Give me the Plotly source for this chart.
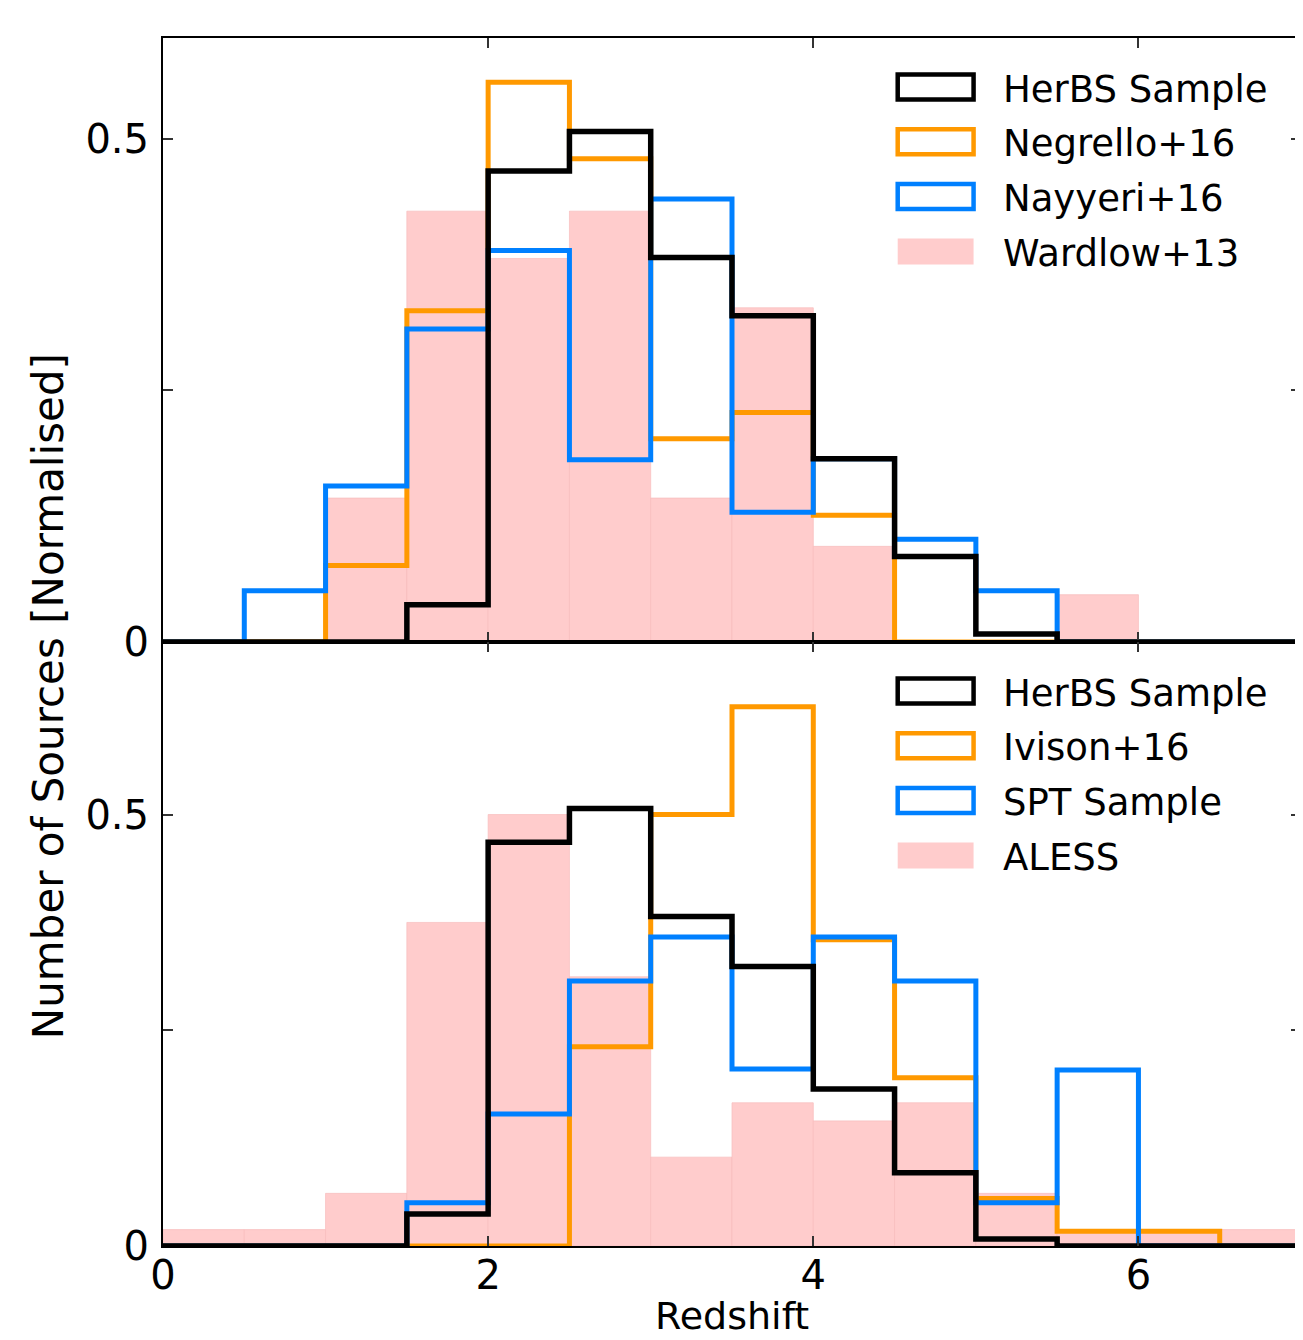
import numpy as np
import plotly.graph_objects as go
from plotly.subplots import make_subplots

# ---------------- data ----------------
bin_edges = [0.0, 0.5, 1.0, 1.5, 2.0, 2.5, 3.0, 3.5, 4.0, 4.5, 5.0, 5.5, 6.0, 6.5, 7.0]

# top panel
herbs    = [0, 0, 0, 0.037, 0.468, 0.507, 0.382, 0.324, 0.182, 0.085, 0.008, 0, 0, 0]
negrello = [0, 0, 0.076, 0.329, 0.556, 0.480, 0.202, 0.228, 0.126, 0, 0, 0, 0, 0]
nayyeri  = [0, 0.051, 0.155, 0.311, 0.389, 0.181, 0.440, 0.129, 0.182, 0.102, 0.051, 0, 0, 0]
wardlow  = [0, 0, 0.143, 0.428, 0.381, 0.428, 0.143, 0.332, 0.095, 0, 0, 0.047, 0, 0]

# bottom panel
ivison = [0, 0, 0, 0, 0, 0.231, 0.500, 0.625, 0.355, 0.195, 0.055, 0.017, 0.017, 0]
spt    = [0, 0, 0, 0.050, 0.153, 0.307, 0.358, 0.205, 0.358, 0.307, 0.050, 0.204, 0, 0]
aless  = [0.019, 0.019, 0.061, 0.375, 0.500, 0.312, 0.103, 0.166, 0.145, 0.166, 0.061, 0.019, 0.019, 0.019]

top_labels = ["HerBS Sample", "Negrello+16", "Nayyeri+16", "Wardlow+13"]
bottom_labels = ["HerBS Sample", "Ivison+16", "SPT Sample", "ALESS"]

x_ticks = [0, 2, 4, 6]
y_ticks = [0, 0.25, 0.5]
y_ticktext = ["0", "", "0.5"]

# ---------------- style ----------------
BLACK = "#000000"
ORANGE = "#FF9900"
BLUE = "#0080FF"
PINK = "#FFCCCC"
FONT = "DejaVu Sans"

OFF = 8                      # page body margin of the html page
PAGE_W, PAGE_H = 1303, 1340
PLOT_L, PLOT_R, PLOT_T, PLOT_B = 163, 1303, 38, 1246   # plot area in page pixels
W, H = PAGE_W - OFF, PAGE_H - OFF
ML, MT = PLOT_L - OFF, PLOT_T - OFF
MR = W - (PLOT_R - OFF)
MB = H - (PLOT_B - OFF)
PW, PH = PLOT_R - PLOT_L, PLOT_B - PLOT_T

edges = np.array(bin_edges)
centers = (edges[:-1] + edges[1:]) / 2
widths = np.diff(edges)

fig = make_subplots(rows=2, cols=1, shared_xaxes=True, vertical_spacing=0)


def step_trace(vals, color, lw):
    y = list(vals) + [vals[-1]]
    return go.Scatter(x=edges, y=y, mode="lines", line=dict(color=color, width=lw, shape="hv"),
                      showlegend=False, hoverinfo="skip")


def fill_trace(vals):
    return go.Bar(x=centers, y=vals, width=widths,
                  marker=dict(color=PINK, line=dict(color="#F6BCBC", width=0.7)),
                  showlegend=False, hoverinfo="skip")


LW_BLACK, LW_COL = 5.5, 5

# top panel
fig.add_trace(fill_trace(wardlow), row=1, col=1)
fig.add_trace(step_trace(negrello, ORANGE, LW_COL), row=1, col=1)
fig.add_trace(step_trace(nayyeri, BLUE, LW_COL), row=1, col=1)
fig.add_trace(step_trace(herbs, BLACK, LW_BLACK), row=1, col=1)

# bottom panel
fig.add_trace(fill_trace(aless), row=2, col=1)
fig.add_trace(step_trace(ivison, ORANGE, LW_COL), row=2, col=1)
fig.add_trace(step_trace(spt, BLUE, LW_COL), row=2, col=1)
fig.add_trace(step_trace(herbs, BLACK, LW_BLACK), row=2, col=1)

axis_common = dict(showgrid=False, zeroline=False, showline=True, linecolor="black", linewidth=2,
                   mirror="ticks", ticks="inside", ticklen=10, tickwidth=1.5, tickcolor="#333",
                   tickfont=dict(family=FONT, size=40, color="black"))

fig.update_xaxes(range=[0, 7], tickvals=x_ticks, **axis_common)
fig.update_xaxes(showticklabels=False, row=1, col=1)
fig.update_xaxes(ticklabelstandoff=-7, row=2, col=1)
fig.update_yaxes(tickvals=y_ticks, ticktext=y_ticktext, ticklabelstandoff=4, **axis_common)
fig.update_yaxes(range=[0, 0.6], row=1, col=1)
fig.update_yaxes(range=[0, 0.7], row=2, col=1)

fig.update_layout(yaxis=dict(domain=[0.5, 1.0]), yaxis2=dict(domain=[0.0, 0.5]))


def px_x(p):
    return (p - PLOT_L) / PW


def px_y(p):
    return (PLOT_B - p) / PH


shapes = []
annotations = []
legend_sets = [
    (top_labels, [BLACK, ORANGE, BLUE, None], 87),
    (bottom_labels, [BLACK, ORANGE, BLUE, None], 691),
]
row_gap = 54.8
for labels, colors, y0 in legend_sets:
    for i, (lab, col) in enumerate(zip(labels, colors)):
        yc = y0 + i * row_gap
        if col is None:
            shapes.append(dict(type="rect", xref="paper", yref="paper",
                               x0=px_x(899), x1=px_x(975), y0=px_y(yc + 13), y1=px_y(yc - 13),
                               fillcolor=PINK, line=dict(width=0)))
        else:
            shapes.append(dict(type="rect", xref="paper", yref="paper",
                               x0=px_x(899), x1=px_x(975), y0=px_y(yc + 12.5), y1=px_y(yc - 12.5),
                               fillcolor="rgba(0,0,0,0)", line=dict(color=col, width=4.5)))
        annotations.append(dict(text=lab, xref="paper", yref="paper", x=px_x(1002), y=px_y(yc + 2),
                                xanchor="left", yanchor="middle", showarrow=False,
                                font=dict(family=FONT, size=37, color="black")))

annotations.append(dict(text="Redshift", xref="paper", yref="paper", x=0.5, y=px_y(1340),
                        xanchor="center", yanchor="bottom", showarrow=False,
                        font=dict(family=FONT, size=38, color="black")))
annotations.append(dict(text="Number of Sources [Normalised]", xref="paper", yref="paper",
                        x=px_x(48), y=px_y(696), textangle=-90, xanchor="center", yanchor="middle",
                        showarrow=False, font=dict(family=FONT, size=42, color="black")))

fig.update_layout(width=W, height=H, margin=dict(l=ML, r=MR, t=MT, b=MB, pad=0),
                  paper_bgcolor="white", plot_bgcolor="white", showlegend=False,
                  shapes=shapes, annotations=annotations, barmode="overlay",
                  font=dict(family=FONT, color="black"))

fig.write_html("out.html")
